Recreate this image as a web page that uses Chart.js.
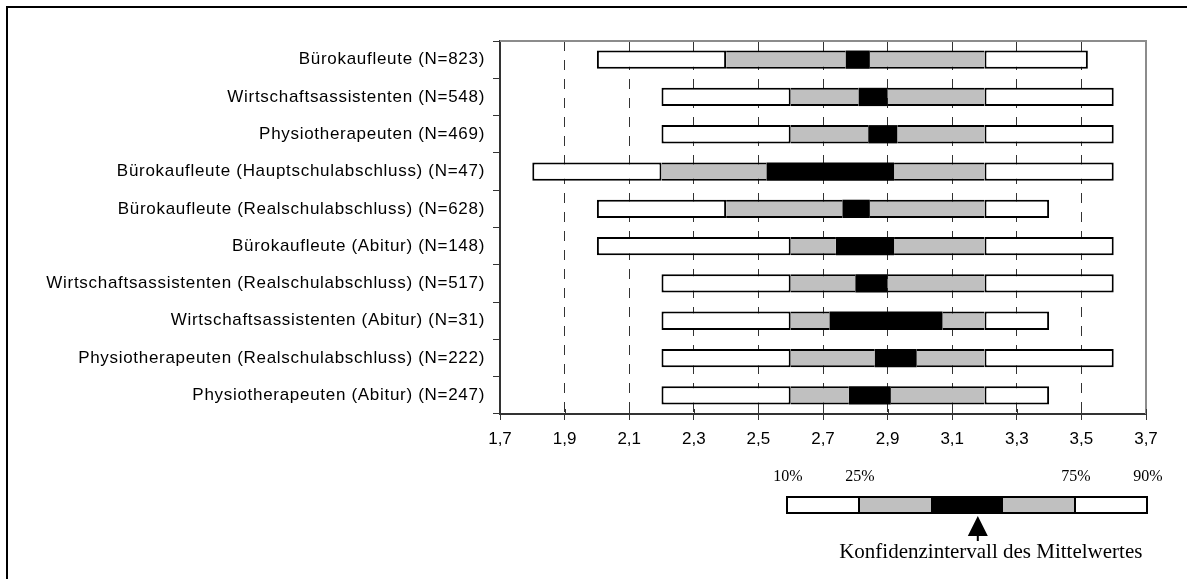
<!DOCTYPE html>
<html>
<head>
<meta charset="utf-8">
<script src="https://cdn.jsdelivr.net/npm/chart.js@4/dist/chart.umd.min.js"></script>
<style>
  html, body { margin: 0; padding: 0; background: #fff; }
  #frame { position: absolute; left: 6px; top: 6px; width: 1300px; height: 700px;
    border-top: 2px solid #000; border-left: 2px solid #000; }
  #chart { position: absolute; left: 0; top: 0; }
</style>
</head>
<body>
<div id="frame"></div>
<canvas id="chart" width="1187" height="579"></canvas>
<script>
const categories = [
  'Bürokaufleute (N=823)',
  'Wirtschaftsassistenten (N=548)',
  'Physiotherapeuten (N=469)',
  'Bürokaufleute (Hauptschulabschluss) (N=47)',
  'Bürokaufleute (Realschulabschluss) (N=628)',
  'Bürokaufleute (Abitur) (N=148)',
  'Wirtschaftsassistenten (Realschulabschluss) (N=517)',
  'Wirtschaftsassistenten (Abitur) (N=31)',
  'Physiotherapeuten (Realschulabschluss) (N=222)',
  'Physiotherapeuten (Abitur) (N=247)',
];
const p10 = [2.0, 2.2, 2.2, 1.8, 2.0, 2.0, 2.2, 2.2, 2.2, 2.2];
const p25 = [2.4, 2.6, 2.6, 2.2, 2.4, 2.6, 2.6, 2.6, 2.6, 2.6];
const ciLow = [2.77, 2.81, 2.84, 2.525, 2.76, 2.74, 2.8, 2.72, 2.86, 2.78];
const ciHigh = [2.845, 2.9, 2.93, 2.92, 2.845, 2.92, 2.9, 3.07, 2.99, 2.91];
const p75 = [3.2, 3.2, 3.2, 3.2, 3.2, 3.2, 3.2, 3.2, 3.2, 3.2];
const p90 = [3.52, 3.6, 3.6, 3.6, 3.4, 3.6, 3.6, 3.4, 3.6, 3.4];

const xMin = 1.7;
const xMax = 3.7;
const xStep = 0.2;

const legendLabels = ['10%', '25%', '75%', '90%'];
const legendCaption = 'Konfidenzintervall des Mittelwertes';

const SANS = "'Liberation Sans', Arial, sans-serif";
const SERIF = "'Liberation Serif', 'Times New Roman', serif";
const GRAY = '#c0c0c0';

const span = (from, to) => categories.map((c, i) => [from[i], to[i]]);

const outline = { top: 2, bottom: 2, left: 0, right: 0 };
const common = { grouped: false, barPercentage: 0.49, categoryPercentage: 1, borderSkipped: false, borderColor: '#000' };

const datasets = [
  { ...common, label: '10-25', data: span(p10, p25), backgroundColor: '#fff', borderWidth: 2 },
  { ...common, label: '25-KI', data: span(p25, ciLow), backgroundColor: GRAY, borderWidth: outline },
  { ...common, label: 'KI', data: span(ciLow, ciHigh), backgroundColor: '#000', borderWidth: 0 },
  { ...common, label: 'KI-75', data: span(ciHigh, p75), backgroundColor: GRAY, borderWidth: outline },
  { ...common, label: '75-90', data: span(p75, p90), backgroundColor: '#fff', borderWidth: 2 },
];

// frame, inner ticks, letter spacing of the category labels and the key below the chart
const decor = {
  id: 'decor',
  beforeDraw(chart) {
    chart.ctx.letterSpacing = '0px';
  },
  afterDatasetsDraw(chart) {
    chart.ctx.letterSpacing = '0.7px';
  },
  afterDraw(chart) {
    const { ctx, chartArea: a, scales } = chart;
    ctx.letterSpacing = '0px';
    ctx.save();
    // gray top/right frame
    ctx.strokeStyle = '#8c8c8c';
    ctx.lineWidth = 2;
    ctx.beginPath();
    ctx.moveTo(a.left, a.top);
    ctx.lineTo(a.right, a.top);
    ctx.lineTo(a.right, a.bottom);
    ctx.stroke();
    // tick marks crossing the x axis
    ctx.strokeStyle = '#333';
    ctx.lineWidth = 1;
    scales.x.ticks.forEach((t) => {
      const px = Math.round(scales.x.getPixelForValue(t.value)) + 0.5;
      ctx.beginPath();
      ctx.moveTo(px, a.bottom - 5);
      ctx.lineTo(px, a.bottom);
      ctx.stroke();
    });

    // key
    const seg = 72;
    const right = a.right + 1;
    const left = right - seg * 5;
    const top = 497;
    const h = 16;
    const fills = ['#fff', GRAY, '#000', GRAY, '#fff'];
    fills.forEach((f, i) => {
      ctx.fillStyle = f;
      ctx.fillRect(left + i * seg, top, seg, h);
    });
    ctx.strokeStyle = '#000';
    ctx.lineWidth = 2;
    ctx.strokeRect(left, top, seg * 5, h);
    ctx.beginPath();
    ctx.moveTo(left + seg, top);
    ctx.lineTo(left + seg, top + h);
    ctx.moveTo(left + seg * 4, top);
    ctx.lineTo(left + seg * 4, top + h);
    ctx.stroke();

    ctx.fillStyle = '#000';
    ctx.font = '16px ' + SERIF;
    ctx.textAlign = 'center';
    ctx.textBaseline = 'alphabetic';
    [0, 1, 4, 5].forEach((k, i) => {
      ctx.fillText(legendLabels[i], left + k * seg + 1, 481);
    });

    const ax = left + seg * 2.65;
    ctx.beginPath();
    ctx.moveTo(ax, top + h + 3);
    ctx.lineTo(ax - 10, top + h + 23);
    ctx.lineTo(ax + 10, top + h + 23);
    ctx.closePath();
    ctx.fill();
    ctx.fillRect(ax - 1, top + h + 22, 2, 6);

    ctx.font = '21px ' + SERIF;
    ctx.fillText(legendCaption, ax + 13, 558);
    ctx.restore();
  },
};

new Chart(document.getElementById('chart'), {
  type: 'bar',
  data: { labels: categories, datasets },
  plugins: [decor],
  options: {
    indexAxis: 'y',
    responsive: false,
    animation: false,
    layout: { padding: { top: 41, right: 41, bottom: 0, left: 0 } },
    plugins: {
      legend: { display: false },
      tooltip: { enabled: false },
    },
    scales: {
      x: {
        type: 'linear',
        min: xMin,
        max: xMax,
        afterFit(scale) {
          scale.height = 165;
        },
        ticks: {
          stepSize: xStep,
          color: '#000',
          font: { family: SANS, size: 17 },
          padding: 9,
          maxRotation: 0,
          autoSkip: false,
          callback: (v) => v.toFixed(1).replace('.', ','),
        },
        grid: {
          color(ctx) {
            const v = ctx.tick && ctx.tick.value;
            if (v === undefined) return '#333';
            return Math.abs(v - xMin) < 1e-6 || Math.abs(v - xMax) < 1e-6 ? 'rgba(0,0,0,0)' : '#333';
          },
          tickColor: '#333',
          tickLength: 6,
          lineWidth: 1,
        },
        border: { display: true, color: '#333', width: 2, dash: [10, 9] },
      },
      y: {
        afterFit(scale) {
          scale.width = 500;
        },
        ticks: {
          color: '#000',
          font: { family: SANS, size: 17 },
          padding: 8,
          z: 1,
        },
        grid: {
          drawOnChartArea: false,
          tickLength: 7,
          tickColor: '#333',
          color: '#333',
        },
        border: { display: true, color: '#333', width: 2 },
      },
    },
  },
});
</script>
</body>
</html>
